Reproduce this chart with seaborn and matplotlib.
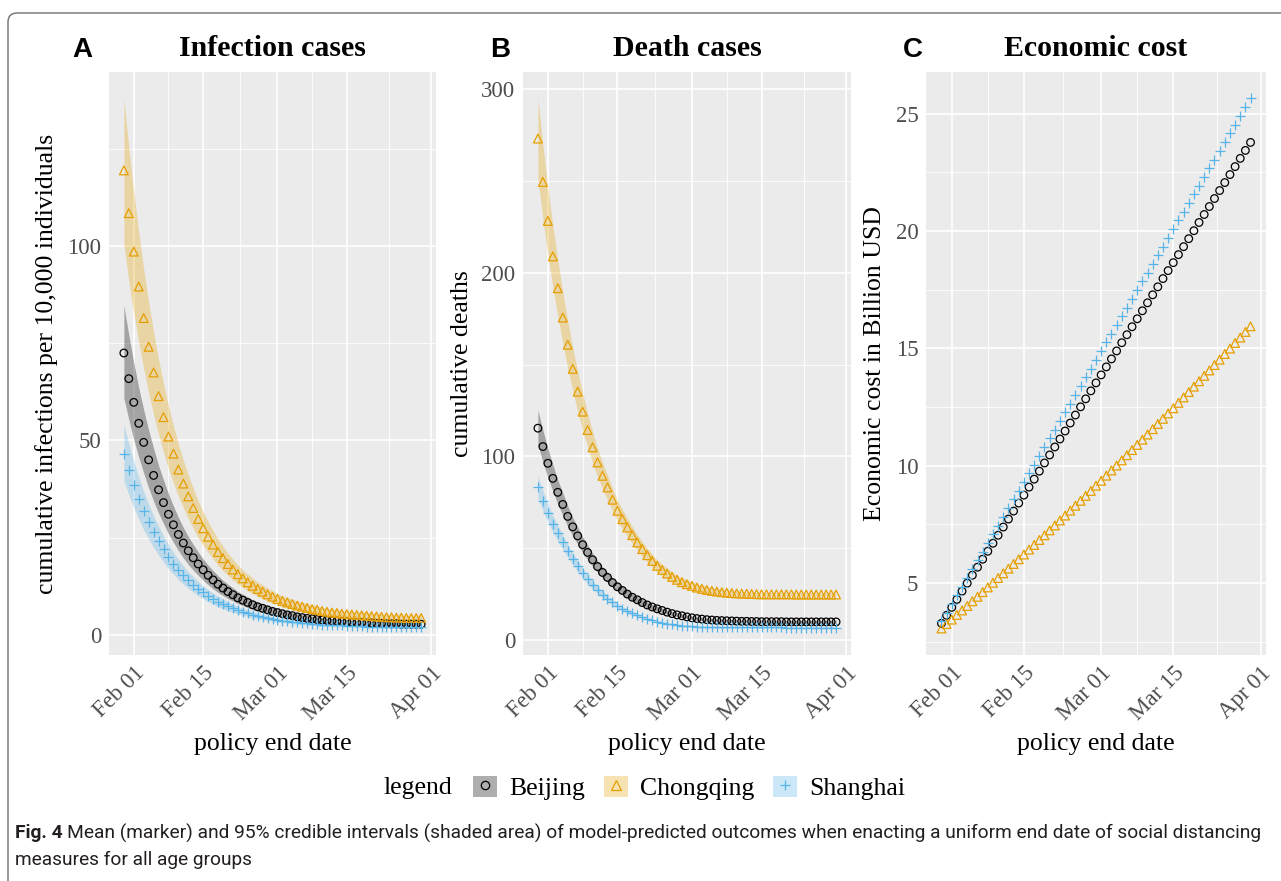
import pandas as pd
import matplotlib
matplotlib.use("Agg")
import matplotlib.pyplot as plt
import matplotlib.dates as mdates
from matplotlib.patches import Patch, FancyBboxPatch
from matplotlib.lines import Line2D
from matplotlib.transforms import IdentityTransform
import seaborn as sns

# policy end dates, one per day
dates = pd.date_range("2020-01-30", "2020-03-30", freq="D")
cities = ["Beijing", "Chongqing", "Shanghai"]

# ---- A: cumulative infections per 10,000 ----
inf_beijing = [72.5, 65.9, 59.8, 54.4, 49.5, 45.0, 41.0, 37.3, 34.0, 31.0,
               28.3, 25.8, 23.6, 21.6, 19.8, 18.2, 16.7, 15.3, 14.1, 13.0,
               12.0, 11.1, 10.3, 9.5, 8.9, 8.3, 7.7, 7.2, 6.8, 6.4,
               6.0, 5.7, 5.4, 5.1, 4.9, 4.6, 4.4, 4.2, 4.1, 3.9,
               3.8, 3.7, 3.6, 3.5, 3.4, 3.3, 3.2, 3.1, 3.1, 3.0,
               3.0, 2.9, 2.9, 2.8, 2.8, 2.8, 2.7, 2.7, 2.7, 2.7, 2.7]
inf_beijing_lo = [60.9, 55.4, 50.2, 45.7, 41.6, 37.8, 34.4, 31.3, 28.6, 26.0,
                  23.8, 21.7, 19.8, 18.1, 16.6, 15.3, 14.0, 12.9, 11.8, 10.9,
                  10.1, 9.3, 8.7, 8.0, 7.5, 7.0, 6.5, 6.0, 5.7, 5.4,
                  5.0, 4.8, 4.5, 4.3, 4.1, 3.9, 3.7, 3.5, 3.4, 3.3,
                  3.2, 3.1, 3.0, 2.9, 2.9, 2.8, 2.7, 2.6, 2.6, 2.5,
                  2.5, 2.4, 2.4, 2.4, 2.4, 2.4, 2.3, 2.3, 2.3, 2.3, 2.3]
inf_beijing_hi = [84.8, 77.1, 70.0, 63.6, 57.9, 52.7, 48.0, 43.6, 39.8, 36.3,
                  33.1, 30.2, 27.6, 25.3, 23.2, 21.3, 19.5, 17.9, 16.5, 15.2,
                  14.0, 13.0, 12.1, 11.1, 10.4, 9.7, 9.0, 8.4, 8.0, 7.5,
                  7.0, 6.7, 6.3, 6.0, 5.7, 5.4, 5.1, 4.9, 4.8, 4.6,
                  4.4, 4.3, 4.2, 4.1, 4.0, 3.9, 3.7, 3.6, 3.6, 3.5,
                  3.5, 3.4, 3.4, 3.3, 3.3, 3.3, 3.2, 3.2, 3.2, 3.2, 3.2]
inf_chongqing = [119.5, 108.5, 98.6, 89.6, 81.5, 74.1, 67.5, 61.4, 56.0, 51.0,
                 46.6, 42.5, 38.9, 35.6, 32.6, 29.8, 27.4, 25.2, 23.2, 21.3,
                 19.7, 18.2, 16.8, 15.6, 14.5, 13.5, 12.6, 11.8, 11.1, 10.4,
                 9.8, 9.2, 8.7, 8.3, 7.9, 7.5, 7.2, 6.9, 6.6, 6.4,
                 6.1, 5.9, 5.7, 5.6, 5.4, 5.3, 5.2, 5.1, 5.0, 4.9,
                 4.8, 4.7, 4.6, 4.5, 4.5, 4.4, 4.4, 4.3, 4.3, 4.3, 4.3]
inf_chongqing_lo = [100.4, 91.1, 82.8, 75.3, 68.5, 62.2, 56.7, 51.6, 47.0, 42.8,
                    39.1, 35.7, 32.7, 29.9, 27.4, 25.0, 23.0, 21.2, 19.5, 17.9,
                    16.5, 15.3, 14.1, 13.1, 12.2, 11.3, 10.6, 9.9, 9.3, 8.7,
                    8.2, 7.7, 7.3, 7.0, 6.6, 6.3, 6.0, 5.8, 5.5, 5.4,
                    5.1, 5.0, 4.8, 4.7, 4.5, 4.5, 4.4, 4.3, 4.2, 4.1,
                    4.0, 3.9, 3.9, 3.8, 3.8, 3.7, 3.7, 3.6, 3.6, 3.6, 3.6]
inf_chongqing_hi = [138.0, 125.3, 113.9, 103.5, 94.1, 85.6, 78.0, 70.9, 64.7, 58.9,
                    53.8, 49.1, 44.9, 41.1, 37.7, 34.4, 31.6, 29.1, 26.8, 24.6,
                    22.8, 21.0, 19.4, 18.0, 16.7, 15.6, 14.6, 13.6, 12.8, 12.0,
                    11.3, 10.6, 10.0, 9.6, 9.1, 8.7, 8.3, 8.0, 7.6, 7.4,
                    7.0, 6.8, 6.6, 6.5, 6.2, 6.1, 6.0, 5.9, 5.8, 5.7,
                    5.5, 5.4, 5.3, 5.2, 5.2, 5.1, 5.1, 5.0, 5.0, 5.0, 5.0]
inf_shanghai = [46.6, 42.3, 38.5, 35.0, 31.8, 29.0, 26.4, 24.1, 22.0, 20.0,
                18.3, 16.7, 15.3, 14.0, 12.9, 11.8, 10.9, 10.0, 9.2, 8.5,
                7.9, 7.3, 6.8, 6.3, 5.9, 5.5, 5.1, 4.8, 4.5, 4.3,
                4.0, 3.8, 3.6, 3.5, 3.3, 3.2, 3.0, 2.9, 2.8, 2.7,
                2.6, 2.5, 2.5, 2.4, 2.4, 2.3, 2.3, 2.2, 2.2, 2.1,
                2.1, 2.1, 2.0, 2.0, 2.0, 2.0, 1.9, 1.9, 1.9, 1.9, 1.9]
inf_shanghai_lo = [39.6, 36.0, 32.7, 29.8, 27.0, 24.7, 22.4, 20.5, 18.7, 17.0,
                   15.6, 14.2, 13.0, 11.9, 11.0, 10.0, 9.3, 8.5, 7.8, 7.2,
                   6.7, 6.2, 5.8, 5.4, 5.0, 4.7, 4.3, 4.1, 3.8, 3.7,
                   3.4, 3.2, 3.1, 3.0, 2.8, 2.7, 2.6, 2.5, 2.4, 2.3,
                   2.2, 2.1, 2.1, 2.0, 2.0, 2.0, 2.0, 1.9, 1.9, 1.8,
                   1.8, 1.8, 1.7, 1.7, 1.7, 1.7, 1.6, 1.6, 1.6, 1.6, 1.6]
inf_shanghai_hi = [54.1, 49.1, 44.7, 40.6, 36.9, 33.6, 30.6, 28.0, 25.5, 23.2,
                   21.2, 19.4, 17.7, 16.2, 15.0, 13.7, 12.6, 11.6, 10.7, 9.9,
                   9.2, 8.5, 7.9, 7.3, 6.8, 6.4, 5.9, 5.6, 5.2, 5.0,
                   4.6, 4.4, 4.2, 4.1, 3.8, 3.7, 3.5, 3.4, 3.2, 3.1,
                   3.0, 2.9, 2.9, 2.8, 2.8, 2.7, 2.7, 2.6, 2.6, 2.4,
                   2.4, 2.4, 2.3, 2.3, 2.3, 2.3, 2.2, 2.2, 2.2, 2.2, 2.2]

# ---- B: cumulative deaths ----
dth_beijing = [115.4, 105.4, 96.3, 88.1, 80.5, 73.9, 67.4, 61.7, 56.8, 52.0,
               47.8, 43.8, 40.1, 36.9, 34.2, 31.4, 29.1, 27.1, 25.1, 23.4,
               22.0, 20.5, 19.2, 18.1, 17.1, 16.2, 15.3, 14.5, 13.8, 13.3,
               12.7, 12.2, 11.8, 11.5, 11.2, 11.0, 10.8, 10.7, 10.6, 10.5,
               10.4, 10.3, 10.3, 10.2, 10.2, 10.1, 10.1, 10.1, 10.1, 10.1,
               10.0, 10.0, 10.0, 10.0, 10.0, 10.0, 10.0, 10.0, 10.0, 10.0, 10.0]
dth_beijing_lo = [106.2, 97.0, 88.6, 81.1, 74.1, 68.0, 62.0, 56.8, 52.3, 47.8,
                  44.0, 40.3, 36.9, 33.9, 31.5, 28.9, 26.8, 24.9, 23.1, 21.5,
                  20.2, 18.9, 17.7, 16.7, 15.8, 15.0, 14.2, 13.5, 12.9, 12.4,
                  11.9, 11.4, 11.0, 10.7, 10.4, 10.2, 10.0, 9.9, 9.8, 9.7,
                  9.6, 9.5, 9.5, 9.4, 9.4, 9.3, 9.3, 9.3, 9.3, 9.3,
                  9.2, 9.2, 9.2, 9.2, 9.2, 9.2, 9.2, 9.2, 9.2, 9.2, 9.2]
dth_beijing_hi = [125.2, 114.4, 104.5, 95.6, 87.3, 80.2, 73.1, 66.9, 61.6, 56.4,
                  51.9, 47.5, 43.5, 40.0, 37.1, 34.1, 31.6, 29.4, 27.2, 25.4,
                  23.9, 22.2, 20.8, 19.6, 18.5, 17.5, 16.5, 15.6, 14.9, 14.3,
                  13.6, 13.1, 12.6, 12.3, 12.0, 11.8, 11.6, 11.5, 11.4, 11.3,
                  11.2, 11.1, 11.1, 11.0, 11.0, 10.9, 10.9, 10.9, 10.9, 10.9,
                  10.8, 10.8, 10.8, 10.8, 10.8, 10.8, 10.8, 10.8, 10.8, 10.8, 10.8]
dth_chongqing = [273.0, 249.4, 228.2, 208.9, 191.6, 175.6, 160.8, 147.7, 135.3, 124.4,
                 114.4, 105.0, 96.8, 89.5, 83.2, 76.5, 70.5, 65.9, 61.4, 57.2,
                 53.2, 49.6, 46.3, 43.2, 40.5, 38.3, 36.3, 34.5, 32.9, 31.6,
                 30.5, 29.6, 28.7, 28.0, 27.4, 26.9, 26.5, 26.2, 25.9, 25.7,
                 25.5, 25.4, 25.3, 25.2, 25.1, 25.0, 25.0, 25.0, 25.0, 25.0,
                 25.0, 25.0, 24.9, 24.9, 24.9, 24.9, 24.9, 24.9, 24.9, 24.9, 24.9]
dth_chongqing_lo = [251.2, 229.4, 209.9, 192.2, 176.3, 161.6, 147.9, 135.9, 124.5, 114.4,
                    105.2, 96.6, 89.1, 82.3, 76.5, 70.4, 64.9, 60.6, 56.5, 52.6,
                    49.0, 45.6, 42.6, 39.7, 37.3, 35.2, 33.4, 31.9, 30.6, 29.5,
                    28.6, 27.9, 27.2, 26.6, 26.1, 25.7, 25.4, 25.1, 24.9, 24.7,
                    24.6, 24.5, 24.4, 24.3, 24.3, 24.2, 24.2, 24.2, 24.2, 24.2,
                    24.2, 24.2, 24.2, 24.2, 24.2, 24.2, 24.2, 24.2, 24.2, 24.2, 24.2]
dth_chongqing_hi = [294.8, 269.4, 246.5, 225.6, 206.9, 189.6, 173.7, 159.5, 146.1, 134.4,
                    123.6, 113.4, 104.5, 96.7, 89.9, 82.6, 76.1, 71.2, 66.3, 61.8,
                    57.5, 53.6, 50.0, 46.7, 43.7, 41.4, 39.2, 37.2, 35.5, 34.1,
                    32.8, 31.8, 30.8, 30.0, 29.3, 28.6, 28.1, 27.7, 27.3, 27.0,
                    26.7, 26.5, 26.3, 26.2, 26.0, 25.9, 25.9, 25.8, 25.8, 25.8,
                    25.8, 25.7, 25.7, 25.7, 25.7, 25.7, 25.7, 25.7, 25.7, 25.7, 25.7]
dth_shanghai = [83.2, 75.9, 69.2, 63.2, 58.1, 53.2, 48.7, 44.4, 40.3, 36.6,
                33.2, 30.1, 27.3, 24.9, 22.7, 20.6, 18.8, 17.2, 15.8, 14.6,
                13.5, 12.5, 11.6, 10.9, 10.2, 9.6, 9.1, 8.6, 8.2, 7.9,
                7.7, 7.5, 7.4, 7.3, 7.2, 7.1, 7.1, 7.0, 7.0, 7.0,
                7.0, 7.0, 7.0, 7.0, 7.0, 7.0, 7.0, 7.0, 7.0, 7.0,
                6.9, 6.9, 6.9, 6.9, 6.9, 6.9, 6.9, 6.9, 6.9, 6.9, 6.9]
dth_shanghai_lo = [77.4, 70.6, 64.4, 58.8, 54.0, 49.5, 45.3, 41.3, 37.5, 34.0,
                   30.9, 28.0, 25.4, 23.2, 21.1, 19.2, 17.5, 16.0, 14.7, 13.6,
                   12.6, 11.6, 10.8, 10.1, 9.5, 8.9, 8.5, 8.0, 7.7, 7.4,
                   7.2, 7.0, 6.9, 6.8, 6.7, 6.6, 6.6, 6.5, 6.5, 6.5,
                   6.5, 6.5, 6.5, 6.5, 6.5, 6.5, 6.5, 6.5, 6.5, 6.5,
                   6.4, 6.4, 6.4, 6.4, 6.4, 6.4, 6.4, 6.4, 6.4, 6.4, 6.4]
dth_shanghai_hi = [89.4, 81.6, 74.4, 67.9, 62.5, 57.2, 52.4, 47.7, 43.3, 39.3,
                   35.7, 32.4, 29.3, 26.8, 24.4, 22.1, 20.2, 18.5, 17.0, 15.7,
                   14.5, 13.4, 12.5, 11.7, 11.0, 10.3, 9.8, 9.2, 8.8, 8.5,
                   8.3, 8.1, 7.9, 7.8, 7.7, 7.6, 7.6, 7.5, 7.5, 7.5,
                   7.5, 7.5, 7.5, 7.5, 7.5, 7.5, 7.5, 7.5, 7.5, 7.5,
                   7.4, 7.4, 7.4, 7.4, 7.4, 7.4, 7.4, 7.4, 7.4, 7.4, 7.4]

# ---- C: economic cost, billion USD ----
cost_beijing = [3.29, 3.63, 3.97, 4.31, 4.66, 5.00, 5.34, 5.68, 6.02, 6.36,
                6.70, 7.04, 7.39, 7.73, 8.07, 8.41, 8.75, 9.09, 9.43, 9.77,
                10.12, 10.46, 10.80, 11.14, 11.48, 11.82, 12.16, 12.51, 12.85, 13.19,
                13.53, 13.87, 14.21, 14.55, 14.89, 15.24, 15.58, 15.92, 16.26, 16.60,
                16.94, 17.28, 17.62, 17.97, 18.31, 18.65, 18.99, 19.33, 19.67, 20.01,
                20.36, 20.70, 21.04, 21.38, 21.72, 22.06, 22.40, 22.74, 23.09, 23.43, 23.77]
cost_chongqing = [3.07, 3.26, 3.45, 3.65, 3.84, 4.03, 4.23, 4.42, 4.62, 4.82,
                  5.02, 5.22, 5.42, 5.62, 5.82, 6.02, 6.22, 6.43, 6.63, 6.84,
                  7.04, 7.25, 7.46, 7.67, 7.88, 8.09, 8.30, 8.51, 8.72, 8.93,
                  9.15, 9.36, 9.58, 9.80, 10.01, 10.23, 10.45, 10.67, 10.89, 11.11,
                  11.33, 11.56, 11.78, 12.00, 12.23, 12.45, 12.68, 12.91, 13.14, 13.37,
                  13.60, 13.83, 14.06, 14.29, 14.52, 14.76, 14.99, 15.23, 15.46, 15.70, 15.94]
cost_shanghai = [3.37, 3.74, 4.11, 4.48, 4.85, 5.23, 5.60, 5.97, 6.34, 6.71,
                 7.08, 7.45, 7.82, 8.20, 8.57, 8.94, 9.31, 9.68, 10.05, 10.42,
                 10.79, 11.17, 11.54, 11.91, 12.28, 12.65, 13.02, 13.39, 13.76, 14.13,
                 14.51, 14.88, 15.25, 15.62, 15.99, 16.36, 16.73, 17.10, 17.48, 17.85,
                 18.22, 18.59, 18.96, 19.33, 19.70, 20.07, 20.45, 20.82, 21.19, 21.56,
                 21.93, 22.30, 22.67, 23.04, 23.41, 23.79, 24.16, 24.53, 24.90, 25.27, 25.64]

xtick_dates = ["2020-02-01", "2020-02-15", "2020-03-01", "2020-03-15", "2020-04-01"]
xtick_labels = ["Feb 01", "Feb 15", "Mar 01", "Mar 15", "Apr 01"]


def make_df(vals, los=None, his=None):
    frames = []
    for i, city in enumerate(cities):
        d = pd.DataFrame({"date": dates, "value": vals[i], "city": city})
        if los is not None:
            d["lo"] = los[i]
            d["hi"] = his[i]
        frames.append(d)
    return pd.concat(frames, ignore_index=True)


df_inf = make_df([inf_beijing, inf_chongqing, inf_shanghai],
                 [inf_beijing_lo, inf_chongqing_lo, inf_shanghai_lo],
                 [inf_beijing_hi, inf_chongqing_hi, inf_shanghai_hi])
df_dth = make_df([dth_beijing, dth_chongqing, dth_shanghai],
                 [dth_beijing_lo, dth_chongqing_lo, dth_shanghai_lo],
                 [dth_beijing_hi, dth_chongqing_hi, dth_shanghai_hi])
df_cost = make_df([cost_beijing, cost_chongqing, cost_shanghai])

sns.set_theme(style="darkgrid", rc={
    "axes.facecolor": "#EBEBEB",
    "grid.color": "white",
    "axes.edgecolor": "#EBEBEB",
    "text.color": "black",
    "axes.labelcolor": "black",
})
plt.rcParams["font.family"] = ["Liberation Serif", "DejaVu Serif"]

colors = {"Beijing": "black", "Chongqing": "#E69F00", "Shanghai": "#56B4E9"}
band_colors = {"Beijing": "#4D4D4D", "Chongqing": "#E69F00", "Shanghai": "#56B4E9"}
band_alpha = {"Beijing": 0.45, "Chongqing": 0.3, "Shanghai": 0.3}
markers = {"Beijing": "o", "Chongqing": "^", "Shanghai": "+"}
msizes = {"Beijing": 30, "Chongqing": 40, "Shanghai": 60}

fig = plt.figure(figsize=(12.81, 8.81), dpi=100)
W, H = 1281, 881
bottom, top = 655, 72
panels = [(109, 436), (523, 851), (926, 1266)]
axes = [fig.add_axes([l / W, 1 - bottom / H, (r - l) / W, (bottom - top) / H])
        for l, r in panels]


def draw_panel(ax, df, title, ylabel, yticks, letter, letter_x, ylab_x):
    if "lo" in df:
        for city in cities:
            sub = df[df.city == city]
            ax.fill_between(sub["date"], sub["lo"], sub["hi"], color=band_colors[city],
                            alpha=band_alpha[city], lw=0, zorder=1)
    for city in cities:
        sub = df[df.city == city]
        kw = dict(marker=markers[city], s=msizes[city], linewidth=0.9, zorder=3,
                  ax=ax, legend=False)
        if markers[city] == "+":
            sns.scatterplot(data=sub, x="date", y="value", color=colors[city], **kw)
        else:
            sns.scatterplot(data=sub, x="date", y="value", color=colors[city],
                            facecolor="none", edgecolor=colors[city], **kw)

    # ggplot-like 5% expansion
    lo_col = "lo" if "lo" in df else "value"
    hi_col = "hi" if "hi" in df else "value"
    ymin, ymax = df[lo_col].min(), df[hi_col].max()
    pad = 0.05 * (ymax - ymin)
    ax.set_xlim(dates[0] - pd.Timedelta(days=3), dates[-1] + pd.Timedelta(days=3))

    major = mdates.date2num(pd.to_datetime(xtick_dates))
    ax.set_xticks(major)
    ax.set_xticklabels(xtick_labels, rotation=45, ha="right", rotation_mode="anchor")
    ax.set_xticks((major[:-1] + major[1:]) / 2, minor=True)
    ax.set_yticks(yticks)
    step = yticks[1] - yticks[0]
    ax.set_yticks([t + step / 2 for t in [yticks[0] - step] + list(yticks)], minor=True)
    ax.set_ylim(ymin - pad, ymax + pad)

    ax.grid(which="major", color="white", lw=1.2)
    ax.grid(which="minor", color="white", lw=0.6)
    ax.tick_params(which="major", length=3.5, width=0.9, color="#333333",
                   labelsize=16.5, labelcolor="#4D4D4D", pad=2)
    ax.tick_params(which="minor", length=0)
    for s in ax.spines.values():
        s.set_visible(False)

    ax.set_xlabel("policy end date", fontsize=18.5, color="black")
    ax.xaxis.set_label_coords(0.5, -0.153)
    ax.xaxis.label.set_va("center")
    ax.set_ylabel(ylabel, fontsize=18.5, color="black")
    ax.yaxis.set_label_coords(ylab_x, 0.5)
    ax.yaxis.label.set_va("center")

    ax.text(0.5, 1 + 24 / 583, title, transform=ax.transAxes, ha="center", va="center",
            fontsize=21.5, fontweight="bold", color="black")
    fig.text(letter_x / W, 1 - 50 / H, letter, ha="center", va="center", fontsize=20,
             fontweight="bold", color="black", family=["Liberation Sans", "DejaVu Sans"])


draw_panel(axes[0], df_inf, "Infection cases", "cumulative infections per 10,000 individuals",
           [0, 50, 100], "A", 82, -0.19)
draw_panel(axes[1], df_dth, "Death cases", "cumulative deaths",
           [0, 100, 200, 300], "B", 500, -0.185)
draw_panel(axes[2], df_cost, "Economic cost", "Economic cost in Billion USD",
           [5, 10, 15, 20, 25], "C", 913, -0.15)

# legend at the bottom
handles = []
for city in cities:
    box = Patch(facecolor=band_colors[city], alpha=band_alpha[city], edgecolor="none")
    mk = Line2D([], [], ls="", marker=markers[city], color=colors[city],
                mfc="none", ms=6 if city == "Beijing" else 7, mew=0.9)
    handles.append((box, mk))
fig.text(452 / W, 1 - 788 / H, "legend", ha="right", va="center", fontsize=18.5)
fig.legend(handles, cities, loc="center left", bbox_to_anchor=(473 / W, 1 - 788 / H),
           ncol=3, frameon=False, fontsize=18.5, handlelength=0.93, handleheight=0.93,
           handletextpad=0.5, columnspacing=0.7, borderpad=0, borderaxespad=0)

# caption
cap_font = ["Roboto", "DejaVu Sans"]
cap_color = "#231F20"
t1 = fig.text(15 / W, 1 - 833 / H, "Fig. 4", fontsize=13.8, fontweight="bold",
              family=cap_font, color=cap_color, va="center")
fig.canvas.draw()
ext = t1.get_window_extent()
fig.text((ext.x1 + 4) / W, 1 - 833 / H,
         "Mean (marker) and 95% credible intervals (shaded area) of model-predicted outcomes "
         "when enacting a uniform end date of social distancing",
         fontsize=13.8, family=cap_font, color=cap_color, va="center")
fig.text(15 / W, 1 - 860 / H, "measures for all age groups", fontsize=13.8,
         family=cap_font, color=cap_color, va="center")

# rounded frame around the figure
frame = FancyBboxPatch((8, -30), 1320, H - 13 + 30, boxstyle="round,pad=0,rounding_size=9",
                       transform=IdentityTransform(), facecolor="none",
                       edgecolor="#6E6E6E", lw=1.0)
fig.patches.append(frame)

fig.savefig("out.png", dpi=100)
